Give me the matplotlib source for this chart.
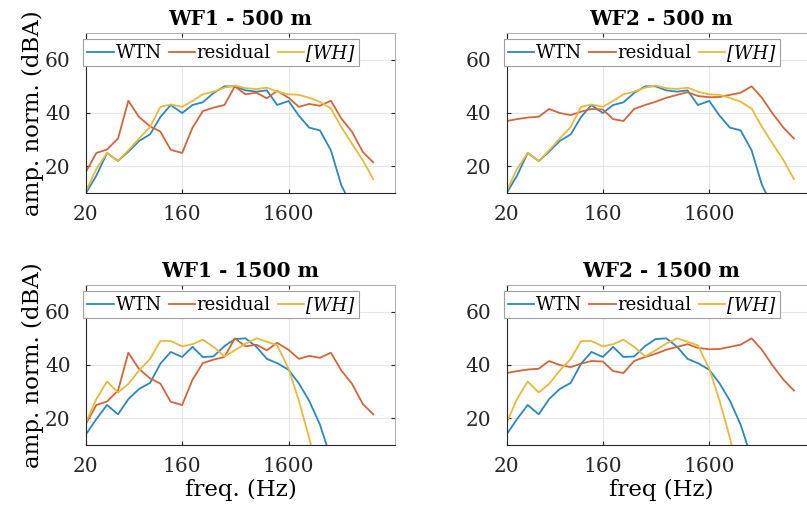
import numpy as np
import matplotlib
matplotlib.use('Agg')
import matplotlib.pyplot as plt

plt.rcParams['font.family'] = 'DejaVu Serif'

# third-octave band centre frequencies (Hz)
freqs = [20, 25, 31.5, 40, 50, 63, 80, 100, 125, 160, 200, 250, 315, 400, 500,
         630, 800, 1000, 1250, 1600, 2000, 2500, 3150, 4000, 5000, 6300, 8000, 10000]
nan = np.nan

# WTN spectra (dBA, normalised)
wtn_500 = [10, 16.5, 25, 22, 25.5, 29.5, 32, 38.5, 43, 40, 43, 44, 47.5, 50, 50,
           48.5, 48, 48.5, 43, 44.5, 39, 34.5, 33.5, 26, 13, 5, nan, nan]
wtn_1500 = [14, 19.7, 25, 21.5, 27.2, 31, 33.3, 40.5, 44.9, 43, 46.8, 43, 43.2, 47.1, 49.7,
            50, 46.8, 42.3, 40.7, 38.2, 33.1, 26.6, 17.7, 5, nan, nan, nan, nan]

# residual noise spectra
res_wf1 = [18, 25, 26.3, 30.4, 44.6, 38.5, 35, 33, 26.2, 25, 34.4, 40.7, 42, 43, 50,
           47, 47.6, 45.5, 48.3, 45.7, 42.3, 43.4, 42.7, 44.6, 38, 33, 25.3, 21.5]
res_wf2 = [37, 37.7, 38.3, 38.6, 41.5, 40, 39.2, 40.5, 41.5, 41.3, 37.7, 37, 41.5, 43, 44.2,
           45.7, 46.8, 47.8, 46.4, 45.9, 46, 46.8, 47.6, 50, 45.7, 39.8, 34.4, 30.4]

# [WH] spectra
wh_500 = [10.8, 19, 25, 22, 26, 30.4, 34.8, 42.3, 43.2, 42.3, 44.5, 47, 48, 49.5, 50.3,
          49.3, 49, 49.5, 48, 47, 46.8, 45.7, 44.2, 41.7, 34.8, 28.5, 22.2, 15.2]
wh_1500 = [18.4, 27.2, 33.8, 29.7, 32.9, 37.9, 42.3, 49, 49, 47, 47.8, 49.5, 46.8, 43.2, 45.5,
           48, 50, 48.7, 47.4, 38.6, 26.6, 12.7, -5, nan, nan, nan, nan, nan]

titles = ['WF1 - 500 m', 'WF2 - 500 m', 'WF1 - 1500 m', 'WF2 - 1500 m']
panels = [(wtn_500, res_wf1, wh_500), (wtn_500, res_wf2, wh_500),
          (wtn_1500, res_wf1, wh_1500), (wtn_1500, res_wf2, wh_1500)]
xlabels = [None, None, 'freq. (Hz)', 'freq (Hz)']

colors = ['#2b87c2', '#d0663a', '#e8b93a']
labels = ['WTN', 'residual', '[WH]']

fig = plt.figure(figsize=(8.07, 5.13), dpi=100)
W, H = 807, 513
lefts = [86, 506.7]
tops = [33, 285]
aw, ah = 309, 160

for i, (title, data) in enumerate(zip(titles, panels)):
    r, c = divmod(i, 2)
    ax = fig.add_axes([lefts[c] / W, 1 - (tops[r] + ah) / H, aw / W, ah / H])
    for vals, col, lab in zip(data, colors, labels):
        ax.plot(freqs, vals, color=col, lw=1.3, label=lab)
    ax.set_xscale('log')
    ax.set_xlim(20, 16000)
    ax.set_ylim(10, 70)
    ax.set_xticks([20, 160, 1600])
    ax.set_xticklabels(['20', '160', '1600'])
    ax.minorticks_off()
    ax.set_yticks([20, 40, 60])
    ax.grid(True, color='#e6e6e6', lw=0.8)
    ax.set_axisbelow(True)
    ax.tick_params(direction='in', length=3, labelsize=14.5, top=True, right=True,
                   colors='#262626')
    ax.tick_params(axis='x', pad=9)
    ax.tick_params(axis='y', pad=11)
    for s in ['top', 'right']:
        ax.spines[s].set_color('#b0b0b0')
    for s in ['left', 'bottom']:
        ax.spines[s].set_color('#262626')
    ax.set_title(title, fontsize=14.5, fontweight='bold', pad=6)
    if c == 0:
        ax.set_ylabel('amp. norm. (dBA)', fontsize=16.5, labelpad=1)
    if xlabels[i]:
        ax.set_xlabel(xlabels[i], fontsize=16.5, labelpad=2)
    leg = ax.legend(loc='upper left', bbox_to_anchor=(-0.01, 0.96), ncol=3,
                    fontsize=13, frameon=True, fancybox=False, framealpha=1,
                    edgecolor='#a0a0a0', handlelength=1.45, handletextpad=0.1,
                    columnspacing=0.4, borderpad=0.25, borderaxespad=0)
    leg.get_frame().set_linewidth(0.8)
    leg.get_texts()[2].set_fontstyle('italic')

fig.savefig('out.png', dpi=100)
